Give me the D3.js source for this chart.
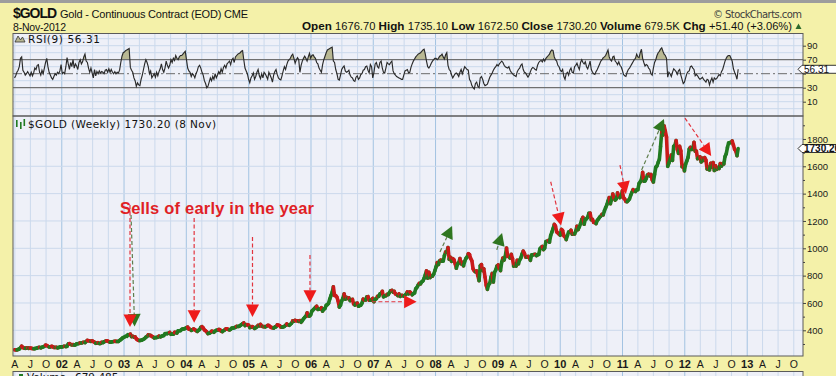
<!DOCTYPE html>
<html>
<head>
<meta charset="utf-8">
<script src="https://cdn.jsdelivr.net/npm/d3@7/dist/d3.min.js"></script>
<style>
html, body { margin: 0; padding: 0; background: #f4f1a9; }
svg { display: block; }
</style>
</head>
<body>
<svg id="chart" width="836" height="376"></svg>
<script>
// weekly closes, one list per year (first week ends 30 Mar 2001)
var firstWeek = "2001-03-30";
var gold2001 = [258,257,256,260,263,272,284,275,270,268,270,272,268,270,268,267,265,266,268,271,274,275,272,276,279,283,291,289,283,278,279,283,280,275,274,276,272,274,278,279];
var gold2002 = [279,282,283,281,283,300,302,297,293,295,292,294,301,302,304,308,307,310,312,310,318,326,324,322,319,322,318,313,305,306,309,303,304,312,310,315,320,323,321,317,313,315,316,318,320,319,318,319,326,332,340,347];
var gold2003 = [350,356,356,368,368,372,354,356,350,352,338,331,326,325,327,330,335,340,350,355,367,363,363,356,352,344,347,347,351,358,352,356,360,362,375,376,376,380,384,371,372,372,385,384,380,396,397,398,406,410,410,414];
var gold2004 = [419,424,409,407,400,404,410,405,398,392,400,406,421,426,418,403,397,388,376,378,383,393,392,386,394,400,401,406,404,394,390,397,402,411,410,406,403,407,416,416,419,422,429,428,429,435,441,448,454,435,441,441,438];
var gold2005 = [420,422,427,423,414,419,426,436,433,444,430,427,427,425,430,436,435,427,421,419,416,424,426,440,437,434,424,423,425,429,437,446,440,437,444,452,469,467,473,470,469,466,470,459,470,484,495,503,528,505,504,513];
var gold2006 = [540,549,558,568,576,553,555,556,565,540,554,560,583,588,598,629,654,677,718,655,653,642,614,570,584,615,634,666,628,641,634,637,617,624,626,593,585,596,599,576,580,584,599,628,623,622,644,646,621,620,622,633];
var gold2007 = [609,626,631,649,648,666,670,685,645,652,653,663,662,676,689,692,680,684,667,662,654,666,648,655,655,650,656,665,681,667,681,673,660,668,673,704,714,731,744,739,755,761,780,806,835,782,824,786,800,797,810,836];
var gold2008 = [864,895,881,908,914,906,907,947,973,971,1005,920,934,905,925,916,888,854,883,895,925,886,897,872,904,926,935,960,954,925,909,850,835,828,834,800,763,872,881,837,850,790,729,700,733,745,788,816,753,825,842,870];
var gold2009 = [878,854,837,899,928,914,942,1002,942,938,929,955,925,870,880,870,912,886,914,929,957,979,963,936,935,940,932,912,951,952,954,956,946,953,955,996,1006,1013,991,1002,1050,1052,1057,1045,1095,1118,1144,1175,1163,1120,1112,1104];
var gold2010 = [1096,1138,1130,1092,1084,1064,1093,1119,1119,1132,1103,1106,1105,1125,1161,1137,1157,1180,1210,1227,1176,1212,1216,1228,1256,1257,1209,1211,1190,1189,1181,1204,1214,1228,1236,1248,1245,1275,1297,1318,1346,1371,1326,1357,1397,1369,1353,1362,1405,1385,1371,1380,1421];
var gold2011 = [1369,1360,1343,1341,1350,1361,1388,1409,1429,1421,1416,1428,1429,1474,1486,1504,1556,1491,1493,1510,1536,1542,1530,1540,1500,1485,1541,1594,1602,1628,1651,1745,1852,1829,1895,1857,1813,1600,1624,1651,1682,1643,1746,1752,1788,1724,1695,1746,1713,1597,1605,1567];
var gold2012 = [1617,1639,1665,1727,1739,1723,1725,1776,1711,1712,1656,1662,1669,1632,1659,1643,1663,1645,1580,1592,1573,1622,1594,1628,1569,1604,1578,1590,1584,1619,1601,1620,1617,1672,1691,1737,1770,1773,1774,1785,1756,1725,1712,1678,1730.2];

// RSI(9), same weeks
var rsi2001 = [44,47,52,55,60,72,74,55,52,48,50,53,50,47,52,47,51,58,56,62,63,52,48,55,50,58,66,72,60,52,48,44,42,46,50,48,52,50,54,63];
var rsi2002 = [50,52,50,60,73,64,56,66,60,70,58,64,61,56,66,70,64,67,74,78,68,66,58,52,58,51,44,56,47,53,50,54,51,53,52,50,55,56,52,57,52,56,52,50,53,50,52,51,55,66,75,80];
var rsi2003 = [81,83,84,85,86,59,55,52,44,40,32,37,34,33,42,48,56,64,70,66,60,50,54,44,47,50,45,52,47,53,57,64,56,52,58,68,62,58,62,70,66,72,69,76,72,70,74,76,76,78,80,82];
var rsi2004 = [70,58,54,52,46,50,48,44,50,54,60,62,58,52,48,40,36,30,32,38,44,40,46,42,50,44,48,53,50,57,52,59,62,58,64,66,68,63,70,72,66,74,76,78,79,80,82,83,70,58,54,50,42];
var rsi2005 = [37,44,47,51,42,46,52,56,47,43,50,44,52,50,46,42,52,48,44,38,48,53,56,49,44,42,41,47,54,60,56,63,68,70,72,76,78,72,65,70,73,70,52,62,68,72,75,72,68,74,79,72];
var rsi2006 = [76,77,74,72,66,64,58,55,52,63,70,75,80,84,85,86,87,88,68,66,56,50,42,41,48,56,59,61,54,52,53,55,48,45,44,40,39,45,47,42,44,49,50,55,56,60,61,55,51,63,60,44];
var rsi2007 = [52,64,66,60,58,66,68,58,52,51,58,66,64,63,66,68,54,50,48,46,45,44,43,42,42,48,54,55,56,51,52,59,64,68,71,74,76,78,79,80,82,84,85,78,68,60,58,61,65,68,70,72];
var rsi2008 = [72,70,72,75,76,78,74,71,77,80,62,56,54,48,44,47,50,51,49,46,52,56,50,55,60,58,56,55,42,39,33,30,28,36,38,32,30,44,46,42,36,33,34,35,40,45,48,51,55,58,60,63];
var rsi2009 = [61,64,66,68,66,62,60,59,58,60,55,52,50,48,47,46,53,56,58,62,64,56,52,51,48,45,48,53,57,59,58,56,55,62,66,68,69,67,71,68,72,74,76,78,82,84,83,74,70,68,62,60];
var rsi2010 = [55,53,56,46,42,50,52,48,55,58,52,51,60,62,65,60,56,66,70,66,64,67,60,57,62,68,56,52,50,49,53,56,60,64,68,70,73,74,76,80,84,74,70,68,74,75,68,66,63,67,62,60,55];
var rsi2011 = [49,47,46,52,56,58,61,64,67,70,72,78,74,73,80,85,72,66,61,63,62,58,56,50,48,58,66,70,76,80,82,85,87,82,78,76,72,45,52,50,46,52,57,55,53,49,54,56,48,42,36,38];
var rsi2012 = [44,50,53,54,60,61,58,56,47,49,47,44,42,43,45,42,40,38,42,41,34,40,44,38,44,42,43,46,49,47,53,56,62,68,72,75,76,76,72,68,57,52,48,42,56.31];

var priceTicks = [400, 600, 800, 1000, 1200, 1400, 1600, 1800];
var priceMinor = [300, 500, 700, 900, 1100, 1300, 1500, 1700, 1900];
var rsiTicks = [10, 30, 70, 90];
var rsiGrid = [0, 10, 20, 40, 60, 80, 90, 100];
var monthLetter = ["", "", "", "A", "", "", "J", "", "", "O", "", ""];

var quoteLabels = ["Open", "High", "Low", "Close", "Volume", "Chg"];
var quoteValues = ["1676.70", "1735.10", "1672.50", "1730.20", "679.5K", "+51.40 (+3.06%)"];

// hand-drawn annotations, in chart units (date, price)
var arrowColor = ["green", "red", "red", "red", "red", "red", "green", "green", "red", "red", "green", "red"];
var arrowFrom = [["2003-02-11", 1244], ["2003-02-05", 1317], ["2004-02-16", 1222], ["2005-01-23", 1083], ["2005-12-26", 951], ["2006-12-24", 609],
                 ["2008-01-27", 973], ["2008-12-25", 988], ["2009-11-06", 1487], ["2010-12-17", 1609], ["2011-04-23", 1573], ["2012-01-02", 1953]];
var arrowTo = [["2003-03-04", 428], ["2003-02-05", 424], ["2004-02-16", 455], ["2005-01-23", 497], ["2005-12-26", 602], ["2007-09-12", 609],
               ["2008-04-07", 1163], ["2009-01-25", 1112], ["2010-01-06", 1167], ["2011-01-21", 1397], ["2011-09-01", 1946], ["2012-06-04", 1675]];
var noteText = "Sells of early in the year";
var noteAt = ["2002-12-08", 1251];

var parse = d3.timeParse("%Y-%m-%d");
var closes = [].concat(gold2001, gold2002, gold2003, gold2004, gold2005, gold2006, gold2007, gold2008, gold2009, gold2010, gold2011, gold2012);
var rsi = [].concat(rsi2001, rsi2002, rsi2003, rsi2004, rsi2005, rsi2006, rsi2007, rsi2008, rsi2009, rsi2010, rsi2011, rsi2012);
var t0 = parse(firstWeek);
var weeks = closes.map(function (c, i) {
	return { date: d3.timeWeek.offset(t0, i), close: c, rsi: rsi[i] };
});

var svg = d3.select("#chart");
var plotL = 13, plotR = 803;
var rsiTop = 33.5, rsiBot = 116, mainTop = 116, mainBot = 356;

var x = d3.scaleTime().domain([parse("2001-03-27"), parse("2013-11-24")]).range([14, plotR]);
var yP = d3.scaleLinear().domain([212, 1968]).range([mainBot, mainTop]);
var yR = d3.scaleLinear().domain([0, 100]).range([108.7, 38.7]);

var bg = "#eef0f8", gridC = "#cbd9ec", yearC = "#a3c3e2", frameC = "#5a5a5a";
var quarters = x.ticks(d3.timeMonth.every(3));

// top strip
svg.append("rect").attr("x", 0).attr("y", 0).attr("width", 836).attr("height", 3).attr("fill", "#9d9d9d");

// header texts
svg.append("text").attr("x", 13).attr("y", 18).attr("font-family", "Liberation Sans, Arial, sans-serif")
	.attr("font-weight", "bold").attr("font-size", 14).attr("textLength", 44).attr("fill", "#111").text("$GOLD");
svg.append("text").attr("x", 60).attr("y", 17.5).attr("font-family", "Liberation Sans, Arial, sans-serif")
	.attr("font-size", 11).attr("textLength", 188).attr("fill", "#111").text("Gold - Continuous Contract (EOD) CME");
svg.append("text").attr("x", 13).attr("y", 30.5).attr("font-family", "Liberation Sans, Arial, sans-serif")
	.attr("font-size", 10.5).attr("textLength", 53).attr("fill", "#111").text("8-Nov-2012");
svg.append("text").attr("x", 713).attr("y", 17.5).attr("font-family", "DejaVu Sans, sans-serif")
	.attr("font-size", 10).attr("textLength", 89).attr("fill", "#3d3d3d").text("\u00a9 StockCharts.com");

var q = svg.append("text").attr("x", 302).attr("y", 29.5).attr("font-family", "Liberation Sans, Arial, sans-serif")
	.attr("fill", "#111").attr("textLength", 490).attr("lengthAdjust", "spacingAndGlyphs");
quoteLabels.forEach(function (lab, i) {
	q.append("tspan").attr("font-weight", "bold").attr("font-size", 11.5).text((i ? "  " : "") + lab + " ");
	q.append("tspan").attr("font-size", 11).text(quoteValues[i]);
});
svg.append("path").attr("d", "M795.5,29L798.5,23.5L801.5,29Z").attr("fill", "#2d6b2d");

// panels
function panel(top, bottom, id) {
	svg.append("rect").attr("x", plotL).attr("y", top).attr("width", plotR - plotL).attr("height", bottom - top)
		.attr("fill", bg);
	svg.append("clipPath").attr("id", id).append("rect")
		.attr("x", plotL).attr("y", top).attr("width", plotR - plotL).attr("height", bottom - top);
	var g = svg.append("g").attr("clip-path", "url(#" + id + ")");
	g.selectAll("line.vg").data(quarters).join("line").attr("class", "vg")
		.attr("x1", function (d) { return x(d); }).attr("x2", function (d) { return x(d); })
		.attr("y1", top).attr("y2", bottom)
		.attr("stroke", function (d) { return d.getMonth() === 0 ? yearC : gridC; })
		.attr("stroke-width", 1);
	return g;
}

var gR = panel(rsiTop, rsiBot, "clipR");
var gM = panel(mainTop, mainBot, "clipM");

// RSI panel
gR.selectAll("line.hg").data(rsiGrid).join("line").attr("class", "hg")
	.attr("x1", plotL).attr("x2", plotR)
	.attr("y1", function (d) { return yR(d); }).attr("y2", function (d) { return yR(d); })
	.attr("stroke", gridC);

svg.append("clipPath").attr("id", "above70").append("rect")
	.attr("x", plotL).attr("y", rsiTop).attr("width", plotR - plotL).attr("height", yR(70) - rsiTop);
svg.append("clipPath").attr("id", "below30").append("rect")
	.attr("x", plotL).attr("y", yR(30)).attr("width", plotR - plotL).attr("height", rsiBot - yR(30));

var areaHi = d3.area().x(function (d) { return x(d.date); }).y0(yR(70)).y1(function (d) { return yR(d.rsi); });
var areaLo = d3.area().x(function (d) { return x(d.date); }).y0(yR(30)).y1(function (d) { return yR(d.rsi); });
gR.append("path").attr("d", areaHi(weeks)).attr("fill", "#b9b893").attr("clip-path", "url(#above70)");
gR.append("path").attr("d", areaLo(weeks)).attr("fill", "#b9b893").attr("clip-path", "url(#below30)");

[70, 30].forEach(function (v) {
	gR.append("line").attr("x1", plotL).attr("x2", plotR).attr("y1", yR(v)).attr("y2", yR(v))
		.attr("stroke", "#707070").attr("stroke-width", 1.2);
});
gR.append("line").attr("x1", plotL).attr("x2", plotR).attr("y1", yR(50)).attr("y2", yR(50))
	.attr("stroke", "#6a6a6a").attr("stroke-dasharray", "9,3,2,3");

gR.append("path").attr("d", d3.line().x(function (d) { return x(d.date); }).y(function (d) { return yR(d.rsi); })(weeks))
	.attr("fill", "none").attr("stroke", "#2a2a2a").attr("stroke-width", 1.15);

// RSI label
svg.append("path").attr("d", "M15,42L18,36L20.5,40L22.5,37L25,42Z").attr("fill", "#b9b893").attr("stroke", "#333").attr("stroke-width", 0.8);
svg.append("text").attr("x", 28).attr("y", 43).attr("font-family", "DejaVu Sans, sans-serif").attr("font-size", 10.5)
	.attr("textLength", 72).attr("fill", "#111").text("RSI(9) 56.31");

// main panel grid
gM.selectAll("line.hg").data(priceTicks).join("line").attr("class", "hg")
	.attr("x1", plotL).attr("x2", plotR)
	.attr("y1", function (d) { return yP(d); }).attr("y2", function (d) { return yP(d); })
	.attr("stroke", gridC);

// price bars (close to close, coloured by direction)
gM.selectAll("line.seg").data(weeks.slice(1)).join("line").attr("class", "seg")
	.attr("x1", function (d, i) { return x(weeks[i].date); })
	.attr("y1", function (d, i) { return yP(weeks[i].close); })
	.attr("x2", function (d) { return x(d.date); })
	.attr("y2", function (d) { return yP(d.close); })
	.attr("stroke", function (d, i) { return d.close >= weeks[i].close ? "#217a21" : "#c91a1a"; })
	.attr("stroke-width", 3.6).attr("stroke-linecap", "round");

// annotations
arrowFrom.forEach(function (f, i) {
	var x0 = x(parse(f[0])), y0 = yP(f[1]);
	var x1 = x(parse(arrowTo[i][0])), y1 = yP(arrowTo[i][1]);
	var dx = x1 - x0, dy = y1 - y0, len = Math.sqrt(dx * dx + dy * dy);
	var ux = dx / len, uy = dy / len, hl = 12.5, hw = 6.5;
	var bx = x1 - ux * hl, by = y1 - uy * hl;
	var red = arrowColor[i] === "red";
	gM.append("line").attr("x1", x0).attr("y1", y0).attr("x2", bx).attr("y2", by)
		.attr("stroke", red ? "#e2343e" : "#5e7d4c").attr("stroke-width", 1.2).attr("stroke-dasharray", "4,2.5");
	gM.append("path")
		.attr("d", "M" + x1 + "," + y1 + "L" + (bx - uy * hw) + "," + (by + ux * hw) + "L" + (bx + uy * hw) + "," + (by - ux * hw) + "Z")
		.attr("fill", red ? "#ee1b1b" : "#2f761f");
});

gM.append("text").attr("x", x(parse(noteAt[0]))).attr("y", yP(noteAt[1]))
	.attr("font-family", "Liberation Sans, Arial, sans-serif").attr("font-weight", "bold").attr("font-size", 16.5)
	.attr("textLength", 194).attr("fill", "#e01f26").text(noteText);

// main label
svg.append("rect").attr("x", 16).attr("y", 120).attr("width", 1.6).attr("height", 7).attr("fill", "#217a21");
svg.append("rect").attr("x", 20).attr("y", 122).attr("width", 1.6).attr("height", 7).attr("fill", "#217a21");
svg.append("rect").attr("x", 23.5).attr("y", 119).attr("width", 1.6).attr("height", 7).attr("fill", "#217a21");
svg.append("text").attr("x", 28).attr("y", 127.5).attr("font-family", "DejaVu Sans, sans-serif").attr("font-size", 10.5)
	.attr("textLength", 188).attr("fill", "#111").text("$GOLD (Weekly) 1730.20 (8 Nov)");

// frames
[[rsiTop, rsiBot], [mainTop, mainBot]].forEach(function (p) {
	svg.append("rect").attr("x", plotL).attr("y", p[0]).attr("width", plotR - plotL).attr("height", p[1] - p[0])
		.attr("fill", "none").attr("stroke", frameC).attr("stroke-width", 1);
});

// right axes
var axP = svg.append("g").attr("transform", "translate(" + plotR + ",0)")
	.call(d3.axisRight(yP).tickValues(priceTicks).tickSize(3).tickPadding(1).tickFormat(d3.format("d")));
var axPm = svg.append("g").attr("transform", "translate(" + plotR + ",0)")
	.call(d3.axisRight(yP).tickValues(priceMinor).tickSize(2).tickFormat(""));
var axR = svg.append("g").attr("transform", "translate(" + plotR + ",0)")
	.call(d3.axisRight(yR).tickValues(rsiTicks).tickSize(3).tickPadding(1));
svg.append("g").attr("transform", "translate(" + plotR + ",0)")
	.call(d3.axisRight(yR).tickValues([50]).tickSize(3).tickFormat(""))
	.call(function (a) { a.select(".domain").remove(); a.selectAll("line").attr("stroke", "#444"); });
[axP, axPm, axR].forEach(function (a) {
	a.select(".domain").remove();
	a.selectAll("line").attr("stroke", "#444");
	a.selectAll("text").attr("font-family", "Liberation Sans, Arial, sans-serif").attr("font-size", 9.5).attr("fill", "#1a1a1a");
});

// callouts
function callout(yy, label, bold) {
	svg.append("path").attr("d", "M" + (plotR - 5) + "," + yy + "L" + (plotR - 1) + "," + (yy - 4) + "L840," + (yy - 4) + "L840," + (yy + 4) + "L" + (plotR - 1) + "," + (yy + 4) + "Z")
		.attr("fill", "#fff").attr("stroke", "#333").attr("stroke-width", 1);
	svg.append("text").attr("x", plotR + 1).attr("y", yy + 3.5).attr("font-family", "Liberation Sans, Arial, sans-serif")
		.attr("font-size", 10).attr("font-weight", bold ? "bold" : "normal").attr("fill", "#111").text(label);
}
var last = weeks[weeks.length - 1];
callout(yR(last.rsi), d3.format(".2f")(last.rsi), false);
callout(yP(last.close), d3.format(".2f")(last.close), true);

// bottom date labels
svg.selectAll("text.xl").data(quarters).join("text").attr("class", "xl")
	.attr("x", function (d) { return x(d); }).attr("y", 367.5)
	.attr("text-anchor", "middle").attr("font-family", "Liberation Sans, Arial, sans-serif")
	.attr("font-size", function (d) { return d.getMonth() === 0 ? 11 : 10.5; })
	.attr("font-weight", function (d) { return d.getMonth() === 0 ? "bold" : "normal"; })
	.attr("fill", "#1a1a1a")
	.text(function (d) { return d.getMonth() === 0 ? d3.timeFormat("%y")(d) : monthLetter[d.getMonth()]; });

// volume panel (cut off by the window)
svg.append("rect").attr("x", plotL).attr("y", 371.5).attr("width", plotR - plotL).attr("height", 20)
	.attr("fill", bg).attr("stroke", frameC);
svg.selectAll("line.vt").data(quarters).join("line").attr("class", "vt")
	.attr("x1", function (d) { return x(d); }).attr("x2", function (d) { return x(d); })
	.attr("y1", 372).attr("y2", 376).attr("stroke", function (d) { return d.getMonth() === 0 ? yearC : gridC; });
svg.append("rect").attr("x", 19).attr("y", 374).attr("width", 4).attr("height", 6).attr("fill", "#217a21");
svg.append("text").attr("x", 27).attr("y", 381).attr("font-family", "DejaVu Sans, sans-serif").attr("font-size", 10.5)
	.attr("fill", "#111").text("Volume");
svg.append("text").attr("x", 75).attr("y", 381).attr("font-family", "DejaVu Sans, sans-serif").attr("font-size", 10.5)
	.attr("fill", "#111").text("679,485");
</script>
</body>
</html>
